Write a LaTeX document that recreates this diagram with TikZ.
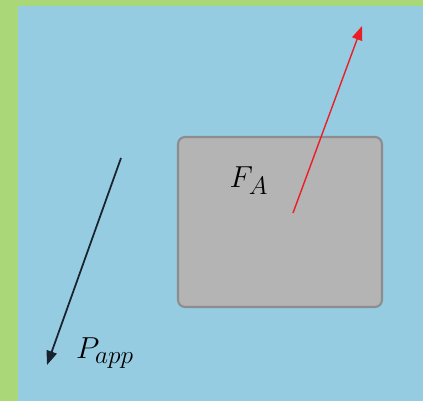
\documentclass[tikz,border=0pt]{standalone}
\usepackage{amsmath,amssymb}
\usepackage{xcolor}
\usepackage{tikz}
\usetikzlibrary{arrows.meta, positioning}
\definecolor{framegreen}{RGB}{170,215,120}
\definecolor{skyblue}{RGB}{150,204,226}
\definecolor{blockgray}{RGB}{180,180,180}
\definecolor{blockedge}{RGB}{140,140,145}
\definecolor{forcered}{RGB}{235,30,40}
\definecolor{forcedark}{RGB}{25,35,45}

\begin{document}
\begin{tikzpicture}[
    x=0.02cm, y=-0.02cm,
    block/.style={rectangle, draw=blockedge, fill=blockgray, line width=1.2pt,
                 minimum width=4.08cm, minimum height=3.4cm, rounded corners=4pt},
    forcelabel/.style={font=\fontsize{19}{21}\selectfont, inner sep=0pt},
    redarrow/.style={-{Triangle[length=8pt, width=6pt]}, line width=0.8pt, forcered},
    darkarrow/.style={-{Triangle[length=8pt, width=6pt]}, line width=1pt, forcedark}
]

% Background
\fill[framegreen] (0,0) rectangle (423,401);
\fill[skyblue] (18,6) rectangle (423,401);
\useasboundingbox (0,0) rectangle (423,401);

% Block
\node[block] at (280,222) (box) {};

% Labels
\node[forcelabel] at (249,181) (fa) {$F_A$};
\node[forcelabel] at (105,353) (papp) {$P_{app}$};

% Forces
\coordinate (fa-tail) at (293,213);
\coordinate (fa-head) at (362,26);
\coordinate (papp-tail) at (121,158);
\coordinate (papp-head) at (47,365);

\draw[redarrow] (fa-tail) -- (fa-head);
\draw[darkarrow] (papp-tail) -- (papp-head);

\end{tikzpicture}
\end{document}
